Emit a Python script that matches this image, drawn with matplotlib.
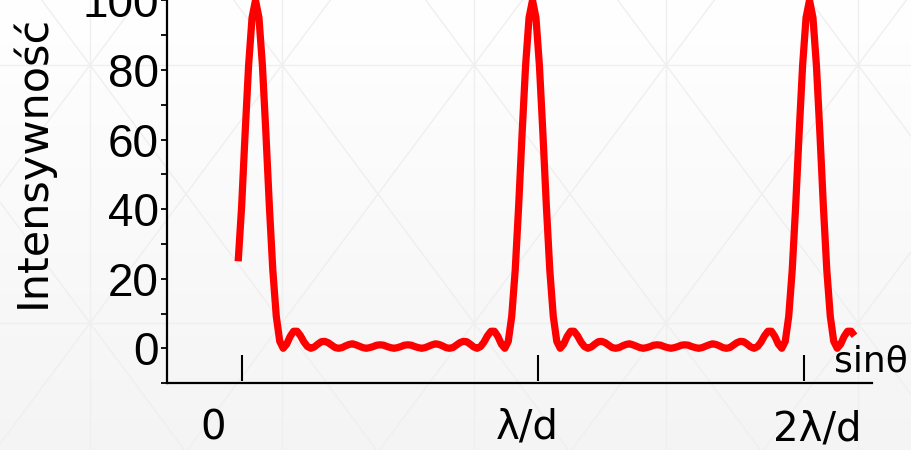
import numpy as np
import matplotlib
matplotlib.use("Agg")
import matplotlib.pyplot as plt

# Interference pattern of a grating: intensity vs sin(theta), in units of lambda/d
sin_theta = np.round(np.arange(-0.0625, 2.1626, 0.0125), 4)
intensity = [
    25.0, 40.9, 61.8, 81.2, 95.0,
    # first principal maximum and its secondary fringes
    100.0, 95.0, 81.2, 61.8, 40.9, 22.4, 9.2, 2.0,
    0.0, 1.2, 3.4, 4.9, 4.9, 3.6, 1.8, 0.5,
    0.0, 0.4, 1.2, 1.9, 2.0, 1.6, 0.9, 0.2,
    0.0, 0.2, 0.7, 1.1, 1.3, 1.0, 0.6, 0.2,
    0.0, 0.2, 0.5, 0.9, 1.0, 0.9, 0.5, 0.2,
    0.0, 0.2, 0.5, 0.9, 1.0, 0.9, 0.5, 0.2,
    0.0, 0.2, 0.6, 1.0, 1.3, 1.1, 0.7, 0.2,
    0.0, 0.2, 0.9, 1.6, 2.0, 1.9, 1.2, 0.4,
    0.0, 0.5, 1.8, 3.6, 4.9, 4.9, 3.4, 1.2,
    0.0, 2.0, 9.2, 22.4, 40.9, 61.8, 81.2, 95.0,
    # second principal maximum
    100.0, 95.0, 81.2, 61.8, 40.9, 22.4, 9.2, 2.0,
    0.0, 1.2, 3.4, 4.9, 4.9, 3.6, 1.8, 0.5,
    0.0, 0.4, 1.2, 1.9, 2.0, 1.6, 0.9, 0.2,
    0.0, 0.2, 0.7, 1.1, 1.3, 1.0, 0.6, 0.2,
    0.0, 0.2, 0.5, 0.9, 1.0, 0.9, 0.5, 0.2,
    0.0, 0.2, 0.5, 0.9, 1.0, 0.9, 0.5, 0.2,
    0.0, 0.2, 0.6, 1.0, 1.3, 1.1, 0.7, 0.2,
    0.0, 0.2, 0.9, 1.6, 2.0, 1.9, 1.2, 0.4,
    0.0, 0.5, 1.8, 3.6, 4.9, 4.9, 3.4, 1.2,
    0.0, 2.0, 9.2, 22.4, 40.9, 61.8, 81.2, 95.0,
    # third principal maximum
    100.0, 95.0, 81.2, 61.8, 40.9, 22.4, 9.2, 2.0,
    0.0, 1.2, 3.4, 4.9, 4.9, 3.6,
]

x_tick_pos = [-0.05, 1.02, 1.98]
x_tick_labels = ["0", "λ/d", "2λ/d"]
y_major = [0, 20, 40, 60, 80, 100]
y_minor = [-10, 10, 30, 50, 70, 90]

W, H = 912, 450
fig = plt.figure(figsize=(W / 100, H / 100), dpi=100)

# ---- slide background: soft vertical gradient with a faint lattice ----
bg = fig.add_axes([0, 0, 1, 1], zorder=-10)
grad = np.linspace(1.0, 0.958, 256)[:, None] * np.ones((1, 4))
bg.imshow(np.dstack([grad, grad, grad]), extent=[0, W, H, 0], aspect="auto",
          interpolation="bicubic")
lat_col = "#efefef"
for xv in range(90, W + 1, 192):
    bg.plot([xv, xv], [0, H], color=lat_col, lw=1)
for yv in (65, 323):
    bg.plot([0, W], [yv, yv], color=lat_col, lw=1)
k = 192 / 258
for x0 in range(90 - 192 * 4, W + 192 * 4, 192):
    y_a, y_b = -20, H + 20
    bg.plot([x0 + k * (y_a - 65), x0 + k * (y_b - 65)], [y_a, y_b], color=lat_col, lw=1)
    bg.plot([x0 - k * (y_a - 65), x0 - k * (y_b - 65)], [y_a, y_b], color=lat_col, lw=1)
bg.set_xlim(0, W)
bg.set_ylim(H, 0)
bg.axis("off")

# ---- main axes ----
left_px, right_px, bottom_px = 166.7, 872.0, 383.1
px_per_unit_y = 3.48
ymin, ymax = -10, 105
ax_h = (ymax - ymin) * px_per_unit_y / H
ax = fig.add_axes([left_px / W, (H - bottom_px) / H, (right_px - left_px) / W, ax_h])
ax.set_facecolor("none")
ax.set_xlim(-0.3206, 2.2256)
ax.set_ylim(ymin, ymax)

ax.plot(sin_theta, intensity, color="#ff0000", lw=5.2,
        solid_joinstyle="round", solid_capstyle="butt", zorder=3)

for side in ("top", "right"):
    ax.spines[side].set_visible(False)
for side in ("left", "bottom"):
    ax.spines[side].set_linewidth(1.6)
    ax.spines[side].set_color("black")

ax.set_yticks(y_major)
ax.set_yticks(y_minor, minor=True)
ax.set_yticklabels([str(v) for v in y_major], fontfamily="Liberation Sans", fontsize=33)
ax.tick_params(axis="y", which="both", direction="out", length=4.5, width=1.3,
               pad=1, color="black")
ax.set_xticks([])

# hand-style tick marks standing on the sin(theta) axis
ax.vlines(x_tick_pos, -9.4, -2.0, color="black", lw=1.5, zorder=2)

label_font = dict(family="DejaVu Sans", color="black")
label_x_px = [213, 527, 817]
label_base_px = [440, 439, 440]
for lab, xp, yp in zip(x_tick_labels, label_x_px, label_base_px):
    fig.text(xp / W, 1 - yp / H, lab, ha="center", va="baseline", fontsize=29,
             **label_font)

fig.text(834 / W, 1 - 372 / H, "sinθ", ha="left", va="baseline", fontsize=26,
         **label_font)
fig.text(32 / W, 1 - 161 / H, "Intensywność", rotation=90, ha="center",
         va="center", fontsize=31, **label_font)

fig.savefig("out.png", dpi=100)
